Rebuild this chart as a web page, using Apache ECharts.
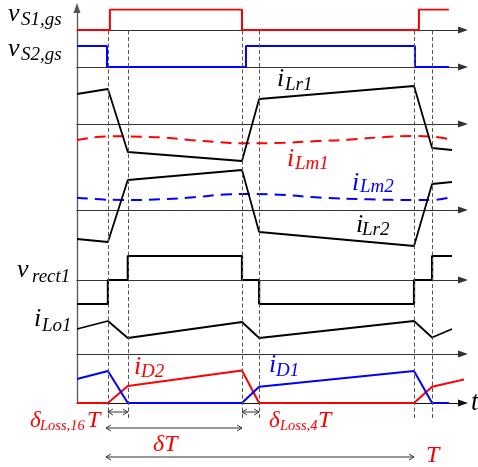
<!DOCTYPE html>
<html><head><meta charset="utf-8">
<script src="https://cdn.jsdelivr.net/npm/echarts@6/dist/echarts.min.js"></script>
<style>html,body{margin:0;padding:0;background:#fff}#c{width:478px;height:467px}</style>
</head><body><div id="c"></div>
<script>
// ---- time events (units of T = 100) ----
const T_MIN = -10.1, T_MAX = 116;
const EVENTS = [0, 6.5, 43.8, 49.4, 100, 105.9];   // dashed verticals
// ---- waveform data [time, value] ----
const vS1 = [[-10.1,0],[0.65,1],[43.8,0],[101.6,1],[111.4,1]];
const vS2 = [[-10.1,1],[-0.3,0],[45.1,1],[100.3,0],[111.4,0]];
const iLr1 = [[-10.1,3.0],[0,3.5],[6.5,-2.8],[43.8,-3.7],[49.4,2.5],[100,3.8],[105.9,-2.4],[112.4,-2.6]];
const iLm1 = [[-10.1,-1.6],[1.3,-1.23],[10.5,-1.27],[18.6,-1.37],[26.8,-1.6],[35.9,-1.8],[44.8,-1.93],[57.8,-1.87],[68.6,-1.7],[78.4,-1.57],[90.5,-1.3],[99.3,-1.2],[105.2,-1.25],[111.4,-1.5]];
const iLr2 = [[-10.1,-2.9],[0,-3.2],[6.5,3.0],[43.8,4.0],[49.4,-2.2],[100,-3.6],[105.9,2.6],[112.4,2.8]];
const iLm2 = [[-10.1,1.23],[5,1.0],[17,1.07],[28,1.27],[40,1.57],[46,1.6],[56,1.53],[70,1.23],[85,1.07],[100,1.0],[106,1.0],[111.4,1.23]];
const vrect1 = [[-10.1,-1],[0,0],[6.5,1],[43.8,0],[49.4,-1],[100,0],[105.9,1],[112.4,1]];
const iLo1 = [[-10.1,2.5],[0,3.3],[6.5,1.6],[43.8,3.2],[49.4,1.6],[100,3.3],[105.9,1.65],[112.4,2.5]];
const iD2 = [[-10.1,0],[0,0],[6.5,1.7],[43.8,3.25],[49.4,0],[100,0],[105.9,1.63],[118,2.47]];
const iD1 = [[-10.1,2.4],[0,3.2],[6.5,0],[43.8,0],[49.4,1.63],[100,3.2],[105.9,0],[111.4,0]];

const RED = '#ff0000', BLUE = '#0000ff', BLACK = '#000000', AX = '#333333';
const FONT = 'Liberation Serif';

// grids: [top, height, ymin, ymax, showXAxis]
const G = [
  [9.5, 20.5, 0, 1, true],     // 0 vS1
  [46, 21, 0, 1, true],        // 1 vS2
  [74, 100, -5, 5, true],      // 2 iLr1
  [160, 100, -5, 5, true],     // 3 iLr2
  [256, 48, -1, 1, true],      // 4 vrect1
  [314, 40, 0, 4, true],       // 5 iLo1
  [363, 40, 0, 4, true],       // 6 iD
  [8, 395, 0, 1, false],       // 7 vertical axis
  [30, 388, 0, 1, false]       // 8 dashed lines
];
const grid = G.map(g => ({left: 77, width: 386, top: g[0], height: g[1]}));
const xAxis = G.map((g, i) => ({
  gridIndex: i, type: 'value', min: T_MIN, max: T_MAX,
  axisLine: {show: g[4], onZero: true, symbol: ['none', 'triangle'], symbolSize: [7, 10],
    lineStyle: {color: i === 6 ? '#111' : AX, width: 1.1}},
  axisTick: {show: false}, axisLabel: {show: false}, splitLine: {show: false}
}));
const yAxis = G.map((g, i) => ({
  gridIndex: i, type: 'value', min: g[2], max: g[3], show: i === 7,
  axisLine: {show: i === 7, onZero: false, symbol: ['none', 'triangle'], symbolSize: [7, 10],
    lineStyle: {color: '#555', width: 1.3}},
  axisTick: {show: false}, axisLabel: {show: false}, splitLine: {show: false}
}));

function ln(data, gi, color, width, extra) {
  return Object.assign({
    type: 'line', xAxisIndex: gi, yAxisIndex: gi, data: data,
    showSymbol: false, symbol: 'none', animation: false, silent: true, z: 3,
    lineStyle: {color: color, width: width}
  }, extra || {});
}
const series = [
  ln(vS1, 0, RED, 2, {step: 'end'}),
  ln(vS2, 1, BLUE, 2, {step: 'end'}),
  ln(iLm1, 2, RED, 2, {smooth: true, lineStyle: {color: RED, width: 2, type: [11, 7]}}),
  ln(iLr1, 2, BLACK, 1.8),
  ln(iLm2, 3, BLUE, 2, {smooth: true, lineStyle: {color: BLUE, width: 2, type: [11, 7]}}),
  ln(iLr2, 3, BLACK, 1.8),
  ln(vrect1, 4, BLACK, 2.2, {step: 'end'}),
  ln(iLo1, 5, BLACK, 1.8),
  ln(iD2, 6, RED, 2, {clip: false}),
  ln(iD1, 6, BLUE, 2),
  {
    type: 'line', xAxisIndex: 8, yAxisIndex: 8, data: [], z: 1, silent: true, animation: false,
    markLine: {
      symbol: ['none', 'none'], silent: true, animation: false, label: {show: false},
      lineStyle: {color: '#555', width: 1, type: [4, 2.5]},
      data: EVENTS.map(t => ({xAxis: t}))
    }
  }
];

const chart = echarts.init(document.getElementById('c'), null, {renderer: 'canvas'});
chart.setOption({animation: false, grid, xAxis, yAxis, series});

const px = t => chart.convertToPixel({xAxisIndex: 0}, t);

function txt(s, x, base, size, color) {
  return {type: 'text', x: x, y: base - 0.3 * size, z: 100, silent: true,
    style: {text: s, fontFamily: FONT, fontSize: size, fontStyle: 'italic', fill: color,
      align: 'left', verticalAlign: 'middle', textAlign: 'left', textVerticalAlign: 'middle'}};
}
function arrow(x1, x2, y) {
  const a = 5, b = 3, st = {stroke: '#333', lineWidth: 1, fill: null};
  return [
    {type: 'line', silent: true, z: 90, shape: {x1: x1, y1: y, x2: x2, y2: y}, style: st},
    {type: 'polyline', silent: true, z: 90, shape: {points: [[x1 + a, y - b], [x1, y], [x1 + a, y + b]]}, style: st},
    {type: 'polyline', silent: true, z: 90, shape: {points: [[x2 - a, y - b], [x2, y], [x2 - a, y + b]]}, style: st}
  ];
}
const M = 26, S = 19;
const graphics = [
  txt('v', 8, 22, M, BLACK), txt('S1,gs', 21, 26, S, BLACK),
  txt('v', 8, 57, M, BLACK), txt('S2,gs', 21, 61, S, BLACK),
  txt('v', 17, 278, M, BLACK), txt('rect1', 32, 283, S, BLACK),
  txt('i', 34, 327, M, BLACK), txt('Lo1', 42, 332, S, BLACK),
  txt('i', 277, 87, M, BLACK), txt('Lr1', 285, 91, S, BLACK),
  txt('i', 287, 167, M, RED), txt('Lm1', 295, 170, S, RED),
  txt('i', 352, 191, M, BLUE), txt('Lm2', 360, 193, S, BLUE),
  txt('i', 356, 233, M, BLACK), txt('Lr2', 362, 236, S, BLACK),
  txt('i', 134, 375, M, RED), txt('D2', 141, 378, S, RED),
  txt('i', 269, 373, M, BLUE), txt('D1', 276, 377, S, BLUE),
  txt('\u03b4', 30, 428, 23, RED), txt('Loss,16', 40, 431, 14.5, RED), txt('T', 87, 428, 24, RED),
  txt('\u03b4', 269, 428, 23, RED), txt('Loss,4', 280, 431, 14.5, RED), txt('T', 318, 428, 24, RED),
  txt('\u03b4T', 153, 452, 24, RED),
  txt('T', 426, 463, 24, RED),
  txt('t', 471, 411, 27, BLACK)
].concat(
  arrow(px(EVENTS[0]), px(EVENTS[1]), 412),
  arrow(px(EVENTS[2]), px(EVENTS[3]), 412),
  arrow(px(EVENTS[0]) - 2, px(EVENTS[2]), 428),
  arrow(px(EVENTS[0]) - 2, px(EVENTS[4]), 457)
);
chart.setOption({graphic: graphics});
</script></body></html>
